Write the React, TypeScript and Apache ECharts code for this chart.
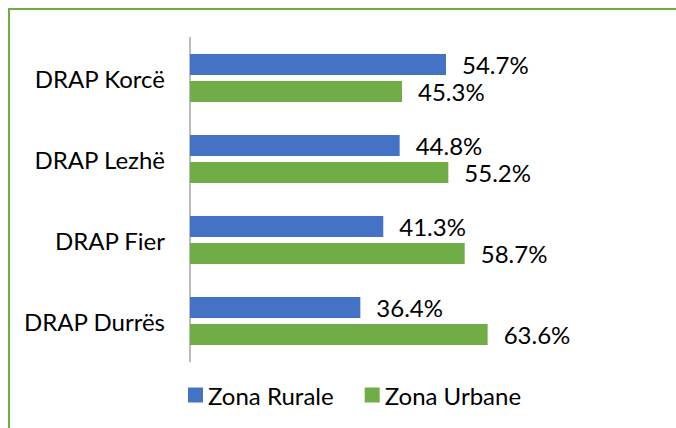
import React, { useEffect, useRef } from "react";
import * as echarts from "echarts";

const categories = ["DRAP Korcë", "DRAP Lezhë", "DRAP Fier", "DRAP Durrës"];
const seriesNames = ["Zona Rurale", "Zona Urbane"];
const rurale = [54.7, 44.8, 41.3, 36.4];
const urbane = [45.3, 55.2, 58.7, 63.6];
const colors = ["#4472C4", "#70AD47"];

const FONT = "Lato, 'Open Sans', sans-serif";

export default function App() {
  const ref = useRef<HTMLDivElement>(null);
  useEffect(() => {
    if (!ref.current) return;
    const chart = echarts.init(ref.current, null, { renderer: "svg" });
    const label = {
      show: true,
      position: "right",
      distance: 16,
      color: "#000",
      fontFamily: FONT,
      fontSize: 24,
      formatter: (p: any) => `${Number(p.value).toFixed(1)}%`,
    };
    chart.setOption({
      animation: false,
      backgroundColor: "#fff",
      textStyle: { fontFamily: FONT },
      grid: { left: 190, right: 18, top: 37.5, bottom: 66.5, containLabel: false },
      xAxis: {
        type: "value",
        min: 0,
        max: 100,
        show: false,
      },
      yAxis: {
        type: "category",
        inverse: true,
        data: categories,
        axisLine: { show: true, lineStyle: { color: "#a6a6a6", width: 1.5 } },
        axisTick: { show: false },
        axisLabel: { color: "#000", fontFamily: FONT, fontSize: 24, margin: 25 },
      },
      legend: {
        top: 378,
        left: 183,
        icon: "rect",
        itemWidth: 15,
        itemHeight: 15,
        itemGap: 31,
        textStyle: { color: "#000", fontFamily: FONT, fontSize: 24 },
        data: seriesNames,
      },
      series: [
        {
          name: seriesNames[0],
          type: "bar",
          data: rurale,
          barWidth: 21,
          barGap: "28%",
          itemStyle: { color: colors[0] },
          label,
        },
        {
          name: seriesNames[1],
          type: "bar",
          data: urbane,
          barWidth: 21,
          barGap: "28%",
          itemStyle: { color: colors[1] },
          label,
        },
      ],
      graphic: [
        {
          type: "line",
          shape: { x1: 9, y1: 9, x2: 9, y2: 428 },
          style: { stroke: "#70AD47", lineWidth: 2 },
        },
        {
          type: "line",
          shape: { x1: 8, y1: 9, x2: 676, y2: 9 },
          style: { stroke: "#70AD47", lineWidth: 2 },
        },
      ],
    });
    return () => chart.dispose();
  }, []);
  return (
    <div
      ref={ref}
      style={{ position: "fixed", left: 0, top: 0, width: 676, height: 428 }}
    />
  );
}
